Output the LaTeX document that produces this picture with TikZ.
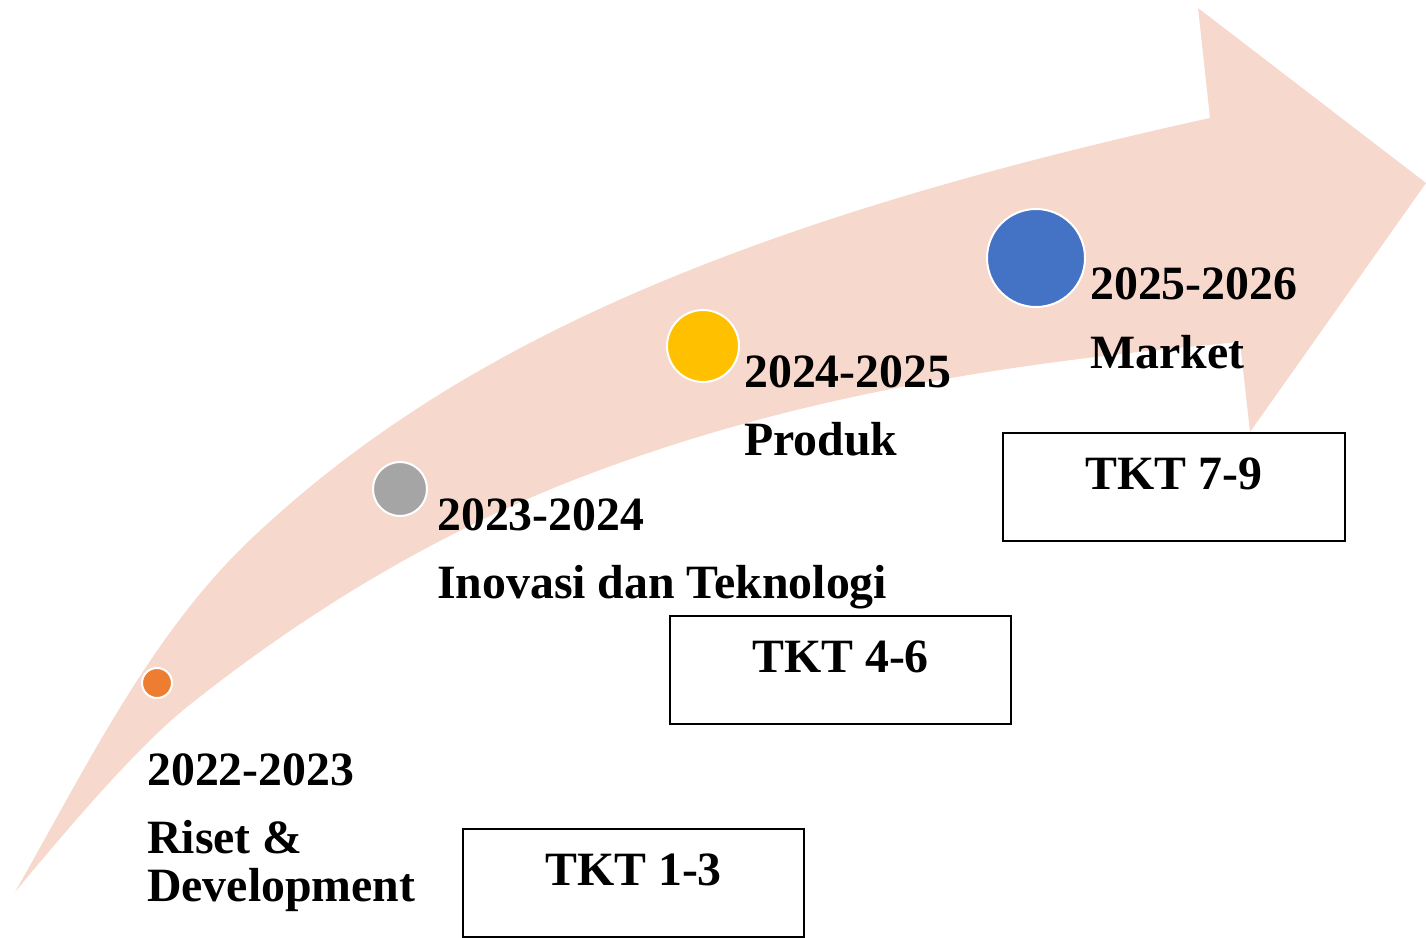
\documentclass[tikz,border=0pt]{standalone}
\usepackage{fontspec}
\setmainfont{Liberation Serif}
\definecolor{arrowpink}{RGB}{247,216,205}
\definecolor{dotorange}{RGB}{237,125,49}
\definecolor{dotgrey}{RGB}{165,165,165}
\definecolor{dotyellow}{RGB}{255,192,0}
\definecolor{dotblue}{RGB}{68,114,196}
\tikzset{
  dot/.style={circle, draw=white, line width=2pt, inner sep=0pt},
  lbl/.style={anchor=base west, inner sep=0pt, font=\fontsize{47.8}{50}\selectfont\bfseries},
  tktbox/.style={draw=black, line width=1.8pt, rectangle, inner sep=0pt, anchor=north,
    minimum width=341pt, text height=57pt, text depth=51pt, align=center,
    font=\fontsize{47.8}{50}\selectfont\bfseries}
}
\begin{document}
\begin{tikzpicture}[x=1pt,y=-1pt]
\useasboundingbox (0,0) rectangle (1426,937);
% big curved arrow
\fill[arrowpink] (15,892)
  .. controls (85,769.5) and (150,635) .. (250,540)
  .. controls (450,350) and (730,223.6) .. (1210,118)
  -- (1198,8) -- (1426,183) -- (1250,432) -- (1240,342)
  .. controls (1027,361) and (813,391) .. (600,470)
  .. controls (450,525) and (312,607) .. (187,707)
  .. controls (132,751) and (55,844) .. (15,892)
  -- cycle;
% circles
\node[dot, fill=dotorange, minimum size=30pt] (c1) at (157,683) {};
\node[dot, fill=dotgrey, minimum size=54pt] (c2) at (400,489) {};
\node[dot, fill=dotyellow, minimum size=72pt] (c3) at (703,346) {};
\node[dot, fill=dotblue, minimum size=98pt] (c4) at (1036,258) {};
% labels
\node[lbl] (y1) at (147,785) {2022-2023};
\node[lbl] (t1a) at (147,853) {Riset \&};
\node[lbl] (t1b) at (147,901) {Development};
\node[lbl] (y2) at (437,530) {2023-2024};
\node[lbl] (t2) at (437,598) {Inovasi dan Teknologi};
\node[lbl] (y3) at (744,387) {2024-2025};
\node[lbl] (t3) at (744,455) {Produk};
\node[lbl] (y4) at (1090,299) {2025-2026};
\node[lbl] (t4) at (1090,368) {Market};
% boxes
\node[tktbox] (b1) at (633.5,828) {TKT 1-3};
\node[tktbox] (b2) at (840.5,615) {TKT 4-6};
\node[tktbox, minimum width=342pt] (b3) at (1174,432) {TKT 7-9};
\end{tikzpicture}
\end{document}
